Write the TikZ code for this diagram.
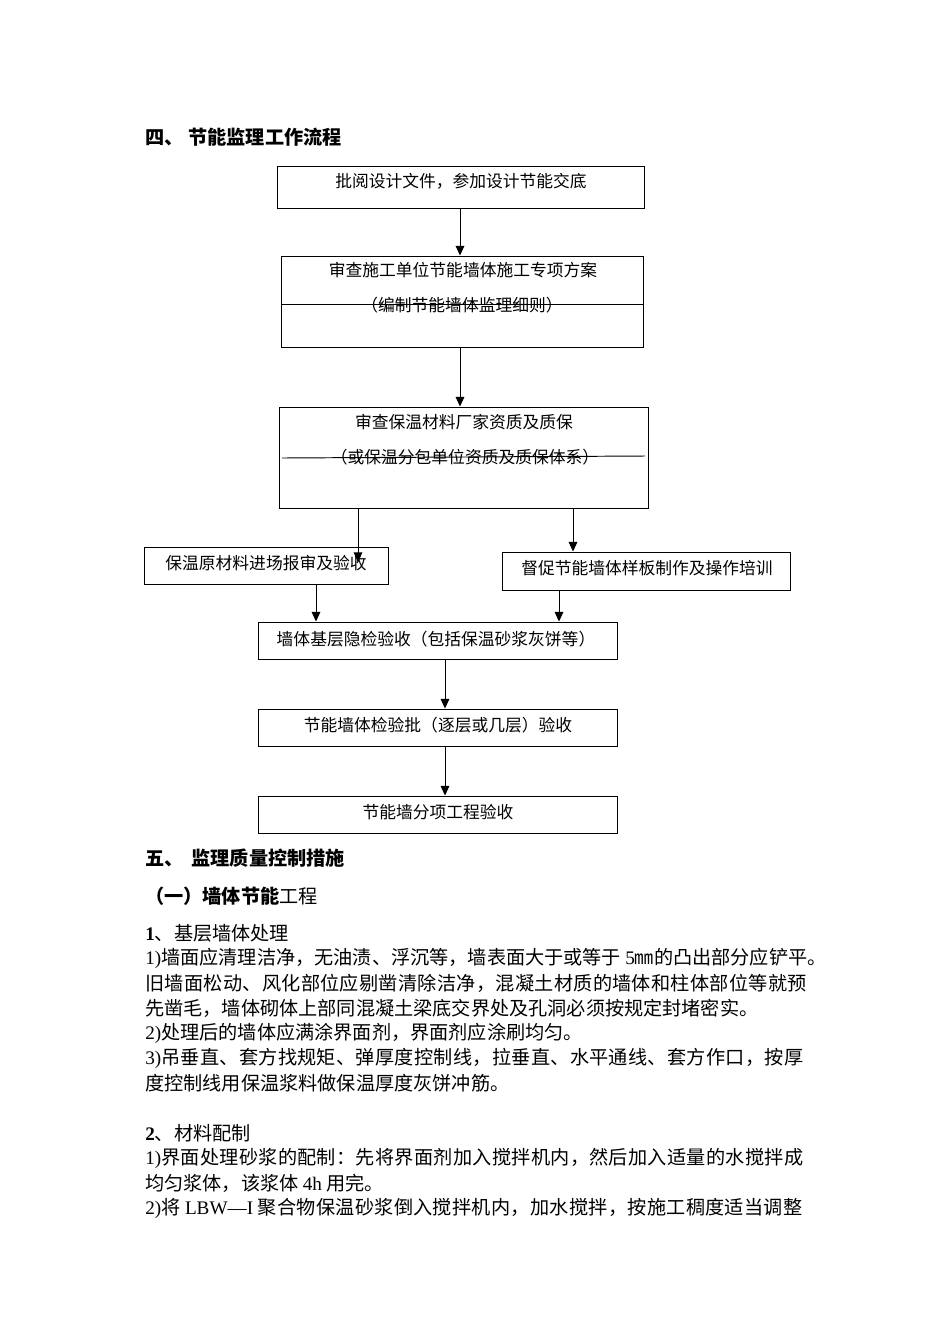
\documentclass[tikz,border=0pt]{standalone}
\usepackage{fontspec}
\setmainfont{Noto Sans CJK SC}
\newfontfamily\latin{Liberation Serif}
\usetikzlibrary{arrows.meta,fit}

\tikzstyle{flow-box}=[draw, line width=0.6pt, inner sep=0pt]
\tikzstyle{box-text}=[inner sep=0pt, font=\fontsize{10.5}{12}\selectfont]
\tikzstyle{flow-arrow}=[-{Triangle[length=6pt,width=5.4pt]}, line width=0.6pt]
\tikzstyle{strike-line}=[line width=0.6pt]
\tikzstyle{heading}=[anchor=west, inner sep=0pt, font=\fontsize{12}{14}\selectfont\bfseries]
\tikzstyle{body-line}=[anchor=west, inner sep=0pt, font=\fontsize{12}{14}\selectfont]
\tikzstyle{full-line}=[body-line, font=\fontsize{12}{14}\selectfont\addfontfeature{LetterSpace=1.6}]
\newcommand{\lat}[1]{{\latin #1}}

\begin{document}
\begin{tikzpicture}[x=0.6263pt, y=-0.6263pt]
  \useasboundingbox (0,0) rectangle (950,1344);
  \fill[white] (0,0) rectangle (950,1344);

  \node (head-4) at (145,137) [heading] {四、\hspace{3pt}节能监理工作流程};

  % flow boxes
  \node (box-1) [flow-box, fit={(277,166) (644,208)}] {};
  \node (box-2) [flow-box, fit={(281,256) (643,347)}] {};
  \node (box-3) [flow-box, fit={(279,407) (648,508)}] {};
  \node (box-4) [flow-box, fit={(144,547) (388,584)}] {};
  \node (box-5) [flow-box, fit={(502,552) (790,590)}] {};
  \node (box-6) [flow-box, fit={(258,622) (617,659)}] {};
  \node (box-7) [flow-box, fit={(258,709) (617,746)}] {};
  \node (box-8) [flow-box, fit={(258,796) (617,833)}] {};

  \node (text-1)  at (461,181) [box-text] {批阅设计文件，参加设计节能交底};
  \node (text-2a) at (463,270) [box-text] {审查施工单位节能墙体施工专项方案};
  \node (text-2b) at (462,305) [box-text] {（编制节能墙体监理细则）};
  \node (text-3a) at (464,422) [box-text] {审查保温材料厂家资质及质保};
  \node (text-3b) at (465,457) [box-text] {（或保温分包单位资质及质保体系）};
  \node (text-4)  at (266,563) [box-text] {保温原材料进场报审及验收};
  \node (text-5)  at (647,568) [box-text] {督促节能墙体样板制作及操作培训};
  \node (text-6)  at (436,639) [box-text] {墙体基层隐检验收（包括保温砂浆灰饼等）};
  \node (text-7)  at (438,725) [box-text] {节能墙体检验批（逐层或几层）验收};
  \node (text-8)  at (438,812) [box-text] {节能墙分项工程验收};

  % lines through the second text lines
  \coordinate (cut-2a) at (281,304);
  \coordinate (cut-2b) at (643,304);
  \coordinate (cut-3a) at (282,458);
  \coordinate (cut-3b) at (645,456);
  \draw [strike-line] (cut-2a) -- (cut-2b);
  \draw [strike-line] (cut-3a) -- (cut-3b);

  % arrows
  \coordinate (col-m) at (460,0);
  \coordinate (col-a) at (358,0);
  \coordinate (col-b) at (573,0);
  \coordinate (col-c) at (316,0);
  \coordinate (col-d) at (559,0);
  \coordinate (col-e) at (445,0);
  \coordinate (tip-4) at (358,562);
  \draw [flow-arrow] (box-1.south -| col-m) -- (box-2.north -| col-m);
  \draw [flow-arrow] (box-2.south -| col-m) -- (box-3.north -| col-m);
  \draw [flow-arrow] (box-3.south -| col-a) -- (tip-4);
  \draw [flow-arrow] (box-3.south -| col-b) -- (box-5.north -| col-b);
  \draw [flow-arrow] (box-4.south -| col-c) -- (box-6.north -| col-c);
  \draw [flow-arrow] (box-5.south -| col-d) -- (box-6.north -| col-d);
  \draw [flow-arrow] (box-6.south -| col-e) -- (box-7.north -| col-e);
  \draw [flow-arrow] (box-7.south -| col-e) -- (box-8.north -| col-e);

  % section five
  \node (head-5) at (145,858) [heading] {五、\hspace{5pt}监理质量控制措施};
  \node (head-5a) at (145,896) [body-line] {{\bfseries （一）墙体节能}工程};

  \node (line-1)  at (145,933)  [body-line] {{\latin\bfseries 1}、基层墙体处理};
  \node (line-2)  at (145,958)  [body-line] {\lat{1)}墙面应清理洁净，无油渍、浮沉等，墙表面大于或等于 \lat{5}㎜的凸出部分应铲平。};
  \node (line-3)  at (145,983)  [full-line] {旧墙面松动、风化部位应剔凿清除洁净，混凝土材质的墙体和柱体部位等就预};
  \node (line-4)  at (145,1008) [body-line] {先凿毛，墙体砌体上部同混凝土梁底交界处及孔洞必须按规定封堵密实。};
  \node (line-5)  at (145,1033) [body-line] {\lat{2)}处理后的墙体应满涂界面剂，界面剂应涂刷均匀。};
  \node (line-6)  at (145,1058) [full-line] {\lat{3)}吊垂直、套方找规矩、弹厚度控制线，拉垂直、水平通线、套方作口，按厚};
  \node (line-7)  at (145,1083) [body-line] {度控制线用保温浆料做保温厚度灰饼冲筋。};
  \node (line-8)  at (145,1133) [body-line] {{\latin\bfseries 2}、材料配制};
  \node (line-9)  at (145,1158) [full-line] {\lat{1)}界面处理砂浆的配制：先将界面剂加入搅拌机内，然后加入适量的水搅拌成};
  \node (line-10) at (145,1183) [body-line] {均匀浆体，该浆体 \lat{4h} 用完。};
  \node (line-11) at (145,1208) [full-line] {\lat{2)}将 \lat{LBW—I} 聚合物保温砂浆倒入搅拌机内，加水搅拌，按施工稠度适当调整};
\end{tikzpicture}
\end{document}
